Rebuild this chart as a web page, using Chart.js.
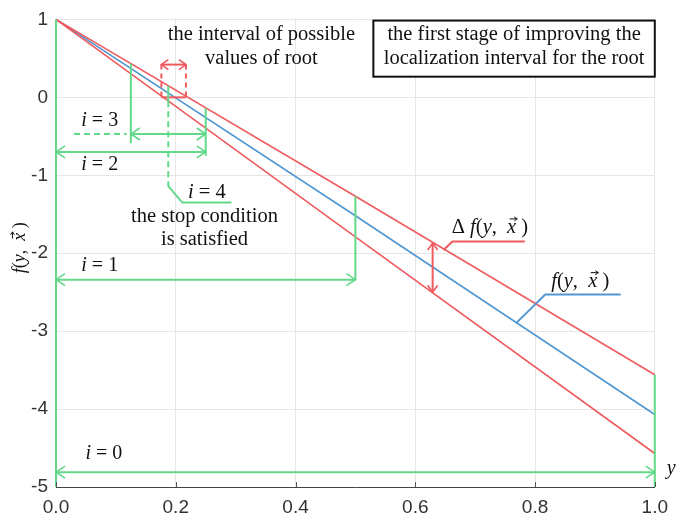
<!DOCTYPE html>
<html>
<head>
<meta charset="utf-8">
<script src="https://cdn.jsdelivr.net/npm/chart.js@4/dist/chart.umd.min.js"></script>
<style>
  html, body { margin: 0; padding: 0; background: #fff; }
  #wrap { width: 677px; height: 517px; }
</style>
</head>
<body>
<div id="wrap"><canvas id="chart"></canvas></div>
<script>
// argument y and the function with its error band
const yArg = [0, 0.5, 1];
const fMain = [1, -1.52, -4.07];
const fUpper = [1, -1.27, -3.56];
const fLower = [1, -1.79, -4.57];

// vertical bracket marks of the bisection steps
const markX = [0, 1, 0.5, 0.25, 0.125, 0.1875];
const markTop = [1, -3.56, -1.27, -0.14, 0.43, 0.15];
const markBottom = [-5, -5, -2.34, -0.75, -0.59, -0.05];

// interval arrows i = 0..3
const stepLabels = ["0", "1", "2", "3"];
const stepArrowY = [-4.81, -2.34, -0.70, -0.47];
const stepFrom = [0, 0, 0, 0.125];
const stepTo = [1, 0.5, 0.25, 0.25];

// dashed helpers
const i3DashX = [0.03, 0.118];
const i3DashY = [-0.47, -0.47];
const i4LeaderX = [0.1875, 0.1875, 0.211, 0.293];
const i4LeaderY = [-0.05, -1.14, -1.35, -1.35];

// root interval (red) and delta arrow
const rootInterval = [0.176, 0.217];
const rootArrowY = 0.42;
const deltaX = 0.629;
const deltaY = [-1.87, -2.50];
const deltaLeaderX = [0.647, 0.662, 0.783];
const deltaLeaderY = [-1.96, -1.85, -1.85];
const mainLeaderX = [0.768, 0.817, 0.943];
const mainLeaderY = [-2.90, -2.53, -2.53];

const xTicks = [0, 0.2, 0.4, 0.6, 0.8, 1.0];
const yTicks = [1, 0, -1, -2, -3, -4, -5];

const GREEN = "#62d889";
const RED = "#ef5a5e";
const BLUE = "#4f96d2";

const pts = (xs, ys) => xs.map((x, k) => ({ x: x, y: ys[k] }));

function line(data, color, width, extra) {
  return Object.assign({
    data: data, borderColor: color, borderWidth: width, showLine: true,
    pointRadius: 0, pointHoverRadius: 0, fill: false, tension: 0, clip: false
  }, extra || {});
}

const datasets = [];
markX.forEach((x, k) => {
  datasets.push(line(pts([x, x], [markTop[k], markBottom[k]]), GREEN, 2));
});
// i = 4: dashed vertical part, then solid leader
datasets.push(line(pts(i4LeaderX.slice(0, 2), i4LeaderY.slice(0, 2)), GREEN, 2, { borderDash: [6, 4] }));
datasets.push(line(pts(i4LeaderX.slice(1), i4LeaderY.slice(1)), GREEN, 2));
datasets.push(line(pts(i3DashX, i3DashY), GREEN, 2, { borderDash: [6, 4] }));
stepArrowY.forEach((y, k) => {
  datasets.push(line(pts([stepFrom[k], stepTo[k]], [y, y]), GREEN, 2, { heads: "both", headLen: 9, headHalf: 6 }));
});
// root interval box
datasets.push(line(pts(rootInterval, [0, 0]), RED, 2));
rootInterval.forEach((x) => {
  datasets.push(line(pts([x, x], [rootArrowY, 0]), RED, 2, { borderDash: [5, 4] }));
});
datasets.push(line(pts(rootInterval, [rootArrowY, rootArrowY]), RED, 2, { heads: "both", headLen: 7, headHalf: 5 }));
datasets.push(line(pts([deltaX, deltaX], deltaY), RED, 2, { heads: "both", headLen: 7, headHalf: 5 }));
datasets.push(line(pts(deltaLeaderX, deltaLeaderY), RED, 2));
datasets.push(line(pts(mainLeaderX, mainLeaderY), BLUE, 2));
datasets.push(line(pts(yArg, fUpper), RED, 1.6));
datasets.push(line(pts(yArg, fLower), RED, 1.6));
datasets.push(line(pts(yArg, fMain), BLUE, 1.6));

const SERIF = '"Liberation Serif", "Times New Roman", serif';
const fontOf = (size, it) => (it ? "italic " : "") + size + "px " + SERIF;

// runs: [text, kind] kind: n normal, i italic, v vector x
function runsWidth(ctx, runs, size) {
  let w = 0;
  runs.forEach((r) => {
    ctx.font = fontOf(size, r[1] !== "n");
    w += ctx.measureText(r[0]).width;
  });
  return w;
}
function drawRuns(ctx, runs, x, y, align, size) {
  const w = runsWidth(ctx, runs, size);
  let cx = align === "center" ? x - w / 2 : align === "right" ? x - w : x;
  ctx.textBaseline = "middle";
  ctx.textAlign = "left";
  runs.forEach((r) => {
    ctx.font = fontOf(size, r[1] !== "n");
    const tw = ctx.measureText(r[0]).width;
    ctx.fillText(r[0], cx, y);
    if (r[1] === "v") {
      const ay = y - size * 0.42;
      const x0 = cx + size * 0.12, x1 = cx + tw + size * 0.05;
      ctx.save();
      ctx.lineWidth = 1;
      ctx.strokeStyle = ctx.fillStyle;
      ctx.beginPath();
      ctx.moveTo(x0, ay); ctx.lineTo(x1, ay);
      ctx.moveTo(x1 - 3, ay - 2); ctx.lineTo(x1, ay); ctx.lineTo(x1 - 3, ay + 2);
      ctx.stroke();
      ctx.restore();
    }
    cx += tw;
  });
}

const fxRuns = [["f", "i"], ["(", "n"], ["y", "i"], [",  ", "n"], ["x", "v"], [" )", "n"]];
const annotations = [
  { runs: [["the interval of possible", "n"]], x: 0.343, y: 0.80, align: "center" },
  { runs: [["values of root", "n"]], x: 0.343, y: 0.50, align: "center" },
  { runs: [["the first stage of improving the", "n"]], x: 0.765, y: 0.80, align: "center" },
  { runs: [["localization interval for the root", "n"]], x: 0.765, y: 0.50, align: "center" },
  { runs: [["i", "i"], [" = 4", "n"]], x: 0.252, y: -1.22, align: "center" },
  { runs: [["the stop condition", "n"]], x: 0.248, y: -1.53, align: "center" },
  { runs: [["is satisfied", "n"]], x: 0.248, y: -1.82, align: "center" },
  { runs: [["\u0394 ", "n"]].concat(fxRuns), x: 0.661, y: -1.67, align: "left" },
  { runs: fxRuns, x: 0.827, y: -2.36, align: "left" }
];
const stepLabelX = [0.08, 0.073, 0.073, 0.073];
const stepLabelY = [-4.57, -2.16, -0.87, -0.30];

const decor = {
  id: "decor",
  afterDatasetsDraw(chart) {
    const ctx = chart.ctx;
    chart.data.datasets.forEach((ds, di) => {
      if (!ds.heads) return;
      const p = chart.getDatasetMeta(di).data;
      const a = p[0], b = p[p.length - 1];
      ctx.save();
      ctx.strokeStyle = ds.borderColor;
      ctx.lineWidth = 1.6;
      [[a, b], [b, a]].forEach((pair) => {
        const tip = pair[0], from = pair[1];
        const ang = Math.atan2(tip.y - from.y, tip.x - from.x);
        ctx.save();
        ctx.translate(tip.x, tip.y);
        ctx.rotate(ang);
        ctx.beginPath();
        ctx.moveTo(-ds.headLen, -ds.headHalf);
        ctx.lineTo(0, 0);
        ctx.lineTo(-ds.headLen, ds.headHalf);
        ctx.stroke();
        ctx.restore();
      });
      ctx.restore();
    });
  },
  afterDraw(chart) {
    const ctx = chart.ctx;
    const xs = chart.scales.x, ys = chart.scales.y;
    const area = chart.chartArea;
    ctx.save();
    // inward tick marks
    ctx.strokeStyle = "#555";
    ctx.lineWidth = 1;
    ctx.beginPath();
    xTicks.forEach((v) => {
      const px = Math.round(xs.getPixelForValue(v)) + 0.5;
      ctx.moveTo(px, area.bottom); ctx.lineTo(px, area.bottom - 5);
    });
    ctx.stroke();
    // frame box
    const bx0 = xs.getPixelForValue(0.53), bx1 = xs.getPixelForValue(1.0);
    const by0 = ys.getPixelForValue(0.985), by1 = ys.getPixelForValue(0.265);
    ctx.fillStyle = "#fff";
    ctx.fillRect(bx0, by0, bx1 - bx0, by1 - by0);
    ctx.strokeStyle = "#111";
    ctx.lineWidth = 2;
    ctx.strokeRect(bx0, by0, bx1 - bx0, by1 - by0);
    ctx.fillStyle = "#111";
    annotations.forEach((a) => {
      drawRuns(ctx, a.runs, xs.getPixelForValue(a.x), ys.getPixelForValue(a.y), a.align, 20.5);
    });
    stepLabels.forEach((s, k) => {
      drawRuns(ctx, [["i", "i"], [" = " + s, "n"]], xs.getPixelForValue(stepLabelX[k]), ys.getPixelForValue(stepLabelY[k]), "center", 20);
    });
    // x axis name
    drawRuns(ctx, [["y", "i"]], area.right + 12, ys.getPixelForValue(-4.77), "left", 20);
    // y axis title
    ctx.translate(20, ys.getPixelForValue(-1.93));
    ctx.rotate(-Math.PI / 2);
    drawRuns(ctx, fxRuns, 0, 0, "center", 18);
    ctx.restore();
  }
};

new Chart(document.getElementById("chart"), {
  type: "scatter",
  data: { datasets: datasets },
  plugins: [decor],
  options: {
    responsive: true,
    maintainAspectRatio: false,
    animation: false,
    events: [],
    layout: { padding: { left: 0, right: 20, top: 12, bottom: 0 } },
    plugins: { legend: { display: false }, tooltip: { enabled: false } },
    scales: {
      x: {
        type: "linear", min: 0, max: 1,
        afterFit: (s) => { s.height = 30; },
        afterBuildTicks: (s) => { s.ticks = xTicks.map((v) => ({ value: v })); },
        grid: { color: "#e6e6e6", drawTicks: false },
        border: { display: true, color: "#444", width: 1 },
        ticks: {
          padding: 9, color: "#333",
          font: { family: '"Liberation Sans", Arial, sans-serif', size: 19 },
          callback: (v) => Number(v).toFixed(1)
        }
      },
      y: {
        type: "linear", min: -5, max: 1,
        afterFit: (s) => { s.width = 56; },
        afterBuildTicks: (s) => { s.ticks = yTicks.map((v) => ({ value: v })); },
        grid: { color: "#e6e6e6", drawTicks: false },
        border: { display: false },
        ticks: {
          padding: 8, color: "#333",
          font: { family: '"Liberation Sans", Arial, sans-serif', size: 19 },
          callback: (v) => String(v)
        }
      }
    }
  }
});
</script>
</body>
</html>
